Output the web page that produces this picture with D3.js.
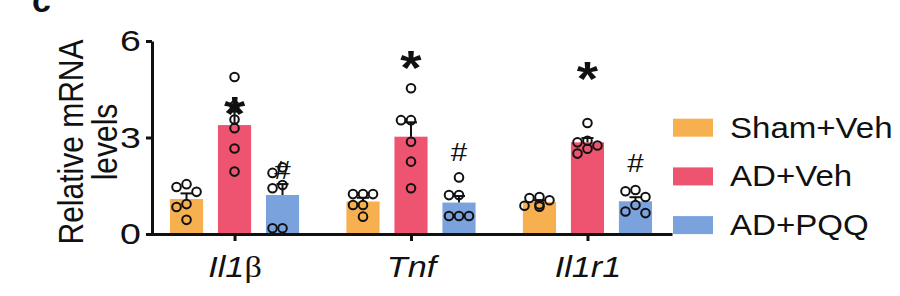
<!DOCTYPE html>
<html>
<head>
<meta charset="utf-8">
<script src="https://cdn.jsdelivr.net/npm/d3@7"></script>
<style>
body { margin: 0; background: #fff; }
svg { display: block; }
text { font-family: "Liberation Sans", Arial, sans-serif; fill: #111; }
</style>
</head>
<body>
<div id="chart"></div>
<script>
const genes = ["Il1β", "Tnf", "Il1r1"];
const groups = ["Sham+Veh", "AD+Veh", "AD+PQQ"];
const colors = ["#f6b04f", "#ee5470", "#7aa2dd"];
const yTicks = [0, 3, 6];

// individual animals per gene
const shamVeh = [
  [1.55, 1.46, 1.31, 0.93, 0.84, 0.44],
  [1.24, 1.24, 1.24, 0.9, 0.9, 0.54],
  [1.15, 1.12, 1.05, 0.92, 0.88, 0.85]
];
const adVeh = [
  [4.88, 3.99, 3.56, 3.29, 2.66, 1.94],
  [4.53, 3.54, 3.54, 2.87, 2.25, 1.42],
  [3.45, 2.9, 2.85, 2.75, 2.65, 2.5]
];
const adPqq = [
  [2.07, 1.9, 1.52, 1.42, 0.18, 0.18],
  [1.76, 1.21, 1.21, 0.56, 0.56, 0.56],
  [1.37, 1.33, 1.15, 0.9, 0.7, 0.65]
];
// significance marks (height in data units)
const starLevel = [4.07, 5.5, 5.16];
const hashLevel = [1.99, 2.56, 2.2];

const SX = 1.14; // text in the figure is a bit wide

let svg = d3.select("#chart").append("svg")
  .attr("width", 900)
  .attr("height", 296);

let x = d3.scalePoint().domain(genes).range([150, 672]).padding(0.479);
let xSub = d3.scaleBand().domain(groups).range([-72, 72]).paddingInner(0.31).paddingOuter(0.155);
let y = d3.scaleLinear().domain([0, 6]).range([234, 41]);

let series = [shamVeh, adVeh, adPqq];
let rows = [];
genes.forEach((g, gi) => {
  groups.forEach((grp, k) => {
    let vals = series[k][gi];
    let m = d3.mean(vals);
    let sem = d3.deviation(vals) / Math.sqrt(vals.length);
    rows.push({gene: g, gi: gi, group: grp, k: k, vals: vals, mean: m, sem: sem});
  });
});

// bars
svg.selectAll(".bar")
  .data(rows)
  .enter()
  .append("rect")
  .attr("x", d => x(d.gene) + xSub(d.group))
  .attr("y", d => y(d.mean))
  .attr("width", xSub.bandwidth())
  .attr("height", d => y(0) - y(d.mean))
  .attr("fill", d => colors[d.k]);

// error bars (upper half only)
rows.forEach(d => {
  let cx = x(d.gene) + xSub(d.group) + xSub.bandwidth() / 2;
  svg.append("line")
    .attr("x1", cx).attr("x2", cx)
    .attr("y1", y(d.mean)).attr("y2", y(d.mean + d.sem))
    .attr("stroke", "#111").attr("stroke-width", 2);
  svg.append("line")
    .attr("x1", cx - 6).attr("x2", cx + 6)
    .attr("y1", y(d.mean + d.sem)).attr("y2", y(d.mean + d.sem))
    .attr("stroke", "#111").attr("stroke-width", 2);
});

// dots, spread sideways when they overlap too much
const r = 4.3, step = 10;
rows.forEach(d => {
  let cx = x(d.gene) + xSub(d.group) + xSub.bandwidth() / 2;
  let placed = [];
  d.vals.slice().sort((a, b) => b - a).forEach(v => {
    let py = y(v);
    let cands = [0, -step, step, -1.5 * step, 1.5 * step, -0.5 * step, 0.5 * step];
    let off = cands.find(o => placed.every(p => Math.hypot(p[0] - o, p[1] - py) >= 8.5));
    if (off === undefined) off = 0;
    placed.push([off, py]);
  });
  svg.selectAll(null)
    .data(placed)
    .enter()
    .append("circle")
    .attr("cx", p => cx + p[0])
    .attr("cy", p => p[1])
    .attr("r", r)
    .attr("fill", "none")
    .attr("stroke", "#111")
    .attr("stroke-width", 2);
});

// axes
let gy = svg.append("g")
  .attr("transform", "translate(152,0)")
  .call(d3.axisLeft(y).tickValues(yTicks).tickFormat(d3.format("d")).tickSize(6).tickPadding(3).tickSizeOuter(0));
gy.select(".domain").attr("stroke", "#111").attr("stroke-width", 3);
gy.selectAll(".tick line").attr("stroke", "#111").attr("stroke-width", 3);
gy.selectAll(".tick text")
  .style("font-size", "30px")
  .attr("fill", "#111")
  .attr("transform", "scale(1.25,1)");

let gx = svg.append("g")
  .attr("transform", "translate(0,234)")
  .call(d3.axisBottom(x).tickSize(7).tickSizeOuter(0).tickFormat(""));
gx.select(".domain").attr("stroke", "#111").attr("stroke-width", 3);
gx.selectAll(".tick line").attr("stroke", "#111").attr("stroke-width", 3);
gx.selectAll(".tick text").each(function(d) {
  let t = d3.select(this)
    .attr("y", 43).attr("dy", 0)
    .attr("transform", `scale(${SX},1)`)
    .style("font-size", "30px")
    .attr("fill", "#111");
  d.split(/([α-ω])/).filter(s => s).forEach(s => {
    let greek = /[α-ω]/.test(s);
    t.append("tspan")
      .text(s)
      .style("font-style", greek ? "normal" : "italic")
      .style("font-family", greek ? "'Liberation Serif', serif" : null);
  });
});

// y title
let yt = svg.append("text")
  .attr("transform", `translate(83,142) scale(${SX},1) rotate(-90)`)
  .attr("text-anchor", "middle")
  .style("font-size", "30px");
yt.append("tspan").attr("x", 0).attr("y", 0).text("Relative mRNA");
yt.append("tspan").attr("x", 0).attr("y", 34 / SX).text("levels");

// significance marks
svg.selectAll(".star")
  .data(genes)
  .enter()
  .append("text")
  .attr("transform", (g, i) => `translate(${x(g) + xSub(groups[1]) + xSub.bandwidth() / 2},${y(starLevel[i]) + 27}) scale(${SX},1)`)
  .attr("text-anchor", "middle")
  .style("font-size", "48px")
  .style("font-weight", "bold")
  .text("*");

svg.selectAll(".hash")
  .data(genes)
  .enter()
  .append("text")
  .attr("transform", (g, i) => `translate(${x(g) + xSub(groups[2]) + xSub.bandwidth() / 2},${y(hashLevel[i]) + 9}) scale(${SX},1)`)
  .attr("text-anchor", "middle")
  .style("font-size", "26px")
  .text("#");

// legend
let legend = svg.selectAll(".legend")
  .data(groups)
  .enter()
  .append("g")
  .attr("transform", (d, i) => `translate(673,${127.7 + i * 48.7})`);
legend.append("rect")
  .attr("x", 0).attr("y", -9)
  .attr("width", 40).attr("height", 18)
  .attr("fill", (d, i) => colors[i]);
legend.append("text")
  .attr("transform", `translate(57,10) scale(${SX},1)`)
  .style("font-size", "29px")
  .text(d => d);

// panel letter, mostly cropped off at the top as in the figure
svg.append("text")
  .attr("x", 32).attr("y", 12)
  .style("font-size", "34px")
  .style("font-weight", "bold")
  .text("c");
</script>
</body>
</html>
